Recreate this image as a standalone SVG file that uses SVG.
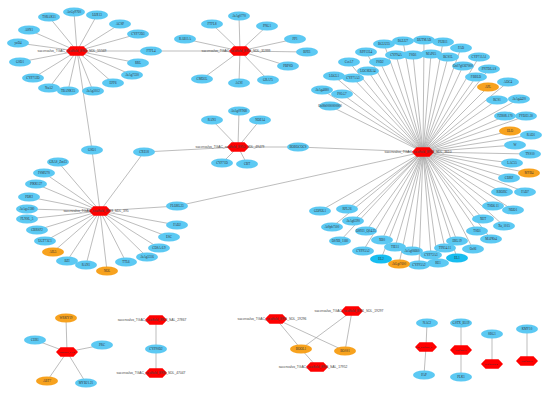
<svg xmlns="http://www.w3.org/2000/svg" xmlns:xlink="http://www.w3.org/1999/xlink" width="550" height="394" viewBox="0 0 550 394">
<style>
.e line{stroke:#a0a0a0;stroke-width:0.7}
.n use{fill:#5cc9f3}
.d use{fill:#17bdf0}
.o use{fill:#f7a21e}
text{font-family:"Liberation Serif","DejaVu Serif",serif;font-size:3.2px;fill:#333;text-anchor:middle}
.hl{font-family:"Liberation Sans","DejaVu Sans",sans-serif;font-size:3.3px;fill:#444}
.hs{font-size:2.7px}
</style>
<defs>
<polygon id="hex" points="-11,0 -6.5,-4.8 6.5,-4.8 11,0 6.5,4.8 -6.5,4.8" fill="#ff0000"/>
<ellipse id="el" rx="11" ry="4.6"/>
</defs>
<rect width="550" height="394" fill="#fff"/>
<g class="e" id="connectors">
<line x1="77" y1="51" x2="49" y2="17"/><line x1="77" y1="51" x2="74" y2="12"/><line x1="77" y1="51" x2="97" y2="15"/><line x1="77" y1="51" x2="120" y2="24"/><line x1="77" y1="51" x2="138" y2="34"/><line x1="77" y1="51" x2="29" y2="30"/><line x1="77" y1="51" x2="18" y2="43"/><line x1="77" y1="51" x2="20" y2="62"/><line x1="77" y1="51" x2="33" y2="78"/><line x1="77" y1="51" x2="49" y2="88"/><line x1="77" y1="51" x2="68" y2="91"/><line x1="77" y1="51" x2="93" y2="91"/><line x1="77" y1="51" x2="113" y2="83"/><line x1="77" y1="51" x2="132" y2="75"/><line x1="77" y1="51" x2="138" y2="63"/><line x1="77" y1="51" x2="151" y2="51"/><line x1="77" y1="51" x2="92" y2="150"/>
<line x1="240" y1="51" x2="151" y2="51"/><line x1="240" y1="51" x2="239" y2="16"/><line x1="240" y1="51" x2="212" y2="24"/><line x1="240" y1="51" x2="267" y2="26"/><line x1="240" y1="51" x2="185" y2="39"/><line x1="240" y1="51" x2="295" y2="39"/><line x1="240" y1="51" x2="307" y2="52"/><line x1="240" y1="51" x2="288" y2="66"/><line x1="240" y1="51" x2="268" y2="80"/><line x1="240" y1="51" x2="239" y2="83"/><line x1="240" y1="51" x2="202" y2="79"/>
<line x1="423" y1="152" x2="384" y2="44"/><line x1="423" y1="152" x2="403" y2="41"/><line x1="423" y1="152" x2="424" y2="40"/><line x1="423" y1="152" x2="443" y2="42"/><line x1="423" y1="152" x2="461" y2="48"/><line x1="423" y1="152" x2="366" y2="52"/><line x1="423" y1="152" x2="396" y2="55"/><line x1="423" y1="152" x2="413" y2="55"/><line x1="423" y1="152" x2="431" y2="54"/><line x1="423" y1="152" x2="448" y2="57"/><line x1="423" y1="152" x2="479" y2="57"/><line x1="423" y1="152" x2="349" y2="62"/><line x1="423" y1="152" x2="380" y2="62"/><line x1="423" y1="152" x2="463" y2="66"/><line x1="423" y1="152" x2="368" y2="71"/><line x1="423" y1="152" x2="489" y2="69"/><line x1="423" y1="152" x2="334" y2="76"/><line x1="423" y1="152" x2="353" y2="78"/><line x1="423" y1="152" x2="476" y2="77"/><line x1="423" y1="152" x2="508" y2="82"/><line x1="423" y1="152" x2="488" y2="87"/><line x1="423" y1="152" x2="322" y2="90"/><line x1="423" y1="152" x2="342" y2="94"/><line x1="423" y1="152" x2="497" y2="100"/><line x1="423" y1="152" x2="519" y2="99"/><line x1="423" y1="152" x2="330" y2="106"/><line x1="423" y1="152" x2="505" y2="116"/><line x1="423" y1="152" x2="526" y2="116"/><line x1="423" y1="152" x2="510" y2="131"/><line x1="423" y1="152" x2="531" y2="135"/><line x1="423" y1="152" x2="515" y2="145"/><line x1="423" y1="152" x2="530" y2="154"/><line x1="423" y1="152" x2="512" y2="163"/><line x1="423" y1="152" x2="529" y2="173"/><line x1="423" y1="152" x2="509" y2="178"/><line x1="423" y1="152" x2="502" y2="192"/><line x1="423" y1="152" x2="525" y2="192"/><line x1="423" y1="152" x2="493" y2="206"/><line x1="423" y1="152" x2="513" y2="210"/><line x1="423" y1="152" x2="483" y2="219"/><line x1="423" y1="152" x2="504" y2="226"/><line x1="423" y1="152" x2="477" y2="231"/><line x1="423" y1="152" x2="491" y2="239"/><line x1="423" y1="152" x2="457" y2="241"/><line x1="423" y1="152" x2="473" y2="249"/><line x1="423" y1="152" x2="445" y2="248"/><line x1="423" y1="152" x2="457" y2="258"/><line x1="423" y1="152" x2="438" y2="263"/><line x1="423" y1="152" x2="431" y2="255"/><line x1="423" y1="152" x2="412" y2="251"/><line x1="423" y1="152" x2="419" y2="265"/><line x1="423" y1="152" x2="395" y2="247"/><line x1="423" y1="152" x2="399" y2="264"/><line x1="423" y1="152" x2="381" y2="259"/><line x1="423" y1="152" x2="382" y2="240"/><line x1="423" y1="152" x2="363" y2="251"/><line x1="423" y1="152" x2="340" y2="241"/><line x1="423" y1="152" x2="366" y2="231"/><line x1="423" y1="152" x2="353" y2="221"/><line x1="423" y1="152" x2="332" y2="227"/><line x1="423" y1="152" x2="347" y2="209"/><line x1="423" y1="152" x2="320" y2="211"/><line x1="423" y1="152" x2="298" y2="147"/><line x1="423" y1="152" x2="177" y2="206"/>
<line x1="238" y1="147" x2="212" y2="120"/><line x1="238" y1="147" x2="239" y2="111"/><line x1="238" y1="147" x2="260" y2="120"/><line x1="238" y1="147" x2="222" y2="163"/><line x1="238" y1="147" x2="247" y2="164"/><line x1="238" y1="147" x2="144" y2="152"/><line x1="238" y1="147" x2="298" y2="147"/>
<line x1="100" y1="211" x2="92" y2="150"/><line x1="100" y1="211" x2="144" y2="152"/><line x1="100" y1="211" x2="58" y2="162"/><line x1="100" y1="211" x2="44" y2="173"/><line x1="100" y1="211" x2="36" y2="184"/><line x1="100" y1="211" x2="29" y2="197"/><line x1="100" y1="211" x2="27" y2="209"/><line x1="100" y1="211" x2="27" y2="219"/><line x1="100" y1="211" x2="37" y2="230"/><line x1="100" y1="211" x2="45" y2="241"/><line x1="100" y1="211" x2="53" y2="252"/><line x1="100" y1="211" x2="67" y2="261"/><line x1="100" y1="211" x2="86" y2="265"/><line x1="100" y1="211" x2="107" y2="271"/><line x1="100" y1="211" x2="126" y2="262"/><line x1="100" y1="211" x2="147" y2="257"/><line x1="100" y1="211" x2="159" y2="248"/><line x1="100" y1="211" x2="169" y2="237"/><line x1="100" y1="211" x2="177" y2="225"/><line x1="100" y1="211" x2="177" y2="206"/>
<line x1="67" y1="352" x2="66" y2="318"/><line x1="67" y1="352" x2="35" y2="340"/><line x1="67" y1="352" x2="102" y2="345"/><line x1="67" y1="352" x2="47" y2="381"/><line x1="67" y1="352" x2="86" y2="383"/>
<line x1="156" y1="320" x2="156" y2="349"/><line x1="156" y1="373" x2="156" y2="349"/>
<line x1="276" y1="319" x2="301" y2="349"/><line x1="276" y1="319" x2="345" y2="351"/><line x1="352" y1="311" x2="301" y2="349"/><line x1="352" y1="311" x2="345" y2="351"/><line x1="301" y1="349" x2="317" y2="367"/>
<line x1="427" y1="323" x2="426" y2="347"/><line x1="426" y1="347" x2="424" y2="375"/>
<line x1="461" y1="323" x2="461" y2="350"/><line x1="461" y1="350" x2="461" y2="377"/>
<line x1="492" y1="334" x2="492" y2="364"/><line x1="527" y1="329" x2="527" y2="361"/>
</g>
<g id="TSRAK11" class="n"><use href="#el" x="49" y="17"/><text x="49" y="18.1">TSRAK11</text></g>
<g id="AcGy9760" class="n"><use href="#el" x="74" y="12"/><text x="74" y="13.1">AcGy9760</text></g>
<g id="LOX13" class="n"><use href="#el" x="97" y="15"/><text x="97" y="16.1">LOX13</text></g>
<g id="ACSP" class="n"><use href="#el" x="120" y="24"/><text x="120" y="25.1">ACSP</text></g>
<g id="CYP72D3" class="n"><use href="#el" x="138" y="34"/><text x="138" y="35.1">CYP72D3</text></g>
<g id="ASN1" class="n"><use href="#el" x="29" y="30"/><text x="29" y="31.1">ASN1</text></g>
<g id="yuD4" class="n"><use href="#el" x="18" y="43"/><text x="18" y="44.1">yuD4</text></g>
<g id="GSD1" class="n"><use href="#el" x="20" y="62"/><text x="20" y="63.1">GSD1</text></g>
<g id="CYP712D" class="n"><use href="#el" x="33" y="78"/><text x="33" y="79.1">CYP712D</text></g>
<g id="NuA2" class="n"><use href="#el" x="49" y="88"/><text x="49" y="89.1">NuA2</text></g>
<g id="TBANK15" class="n"><use href="#el" x="68" y="91"/><text x="68" y="92.1">TBANK15</text></g>
<g id="AtAg3012" class="n"><use href="#el" x="93" y="91"/><text x="93" y="92.1">AtAg3012</text></g>
<g id="EPF6" class="n"><use href="#el" x="113" y="83"/><text x="113" y="84.1">EPF6</text></g>
<g id="AtAg7330" class="n"><use href="#el" x="132" y="75"/><text x="132" y="76.1">AtAg7330</text></g>
<g id="RRL" class="n"><use href="#el" x="138" y="63"/><text x="138" y="64.1">RRL</text></g>
<g id="FTFL4" class="n"><use href="#el" x="151" y="51"/><text x="151" y="52.1">FTFL4</text></g>
<g id="GSO1" class="n"><use href="#el" x="92" y="150"/><text x="92" y="151.1">GSO1</text></g>
<g id="hub1"><use href="#hex" x="77" y="51"/><text class="hl" x="72" y="52.1">saccnvalvo_TGAC_scaffold_8966_SDL_55569</text></g>
<g id="AtAg0770" class="n"><use href="#el" x="239" y="16"/><text x="239" y="17.1">AtAg0770</text></g>
<g id="FTFL8" class="n"><use href="#el" x="212" y="24"/><text x="212" y="25.1">FTFL8</text></g>
<g id="PNG1" class="n"><use href="#el" x="267" y="26"/><text x="267" y="27.1">PNG1</text></g>
<g id="RAB11A" class="n"><use href="#el" x="185" y="39"/><text x="185" y="40.1">RAB11A</text></g>
<g id="PP1" class="n"><use href="#el" x="295" y="39"/><text x="295" y="40.1">PP1</text></g>
<g id="BPE1" class="n"><use href="#el" x="307" y="52"/><text x="307" y="53.1">BPE1</text></g>
<g id="PBPSD" class="n"><use href="#el" x="288" y="66"/><text x="288" y="67.1">PBPSD</text></g>
<g id="GRA75" class="n"><use href="#el" x="268" y="80"/><text x="268" y="81.1">GRA75</text></g>
<g id="ACSI" class="n"><use href="#el" x="239" y="83"/><text x="239" y="84.1">ACSI</text></g>
<g id="CMD5L" class="n"><use href="#el" x="202" y="79"/><text x="202" y="80.1">CMD5L</text></g>
<g id="hub2"><use href="#hex" x="240" y="51"/><text class="hl" x="236" y="52.1">saccnvalvo_TGAC_scaffold_8958_SDL_31999</text></g>
<g id="BGLU35" class="n"><use href="#el" x="384" y="44"/><text x="384" y="45.1">BGLU35</text></g>
<g id="BGLU7" class="n"><use href="#el" x="403" y="41"/><text x="403" y="42.1">BGLU7</text></g>
<g id="DUTMAD" class="n"><use href="#el" x="424" y="40"/><text x="424" y="41.1">DUTMAD</text></g>
<g id="PUB11" class="n"><use href="#el" x="443" y="42"/><text x="443" y="43.1">PUB11</text></g>
<g id="FAD" class="n"><use href="#el" x="461" y="48"/><text x="461" y="49.1">FAD</text></g>
<g id="RPP13L4" class="n"><use href="#el" x="366" y="52"/><text x="366" y="53.1">RPP13L4</text></g>
<g id="CYP94A" class="n"><use href="#el" x="396" y="55"/><text x="396" y="56.1">CYP94A</text></g>
<g id="FSD1" class="n"><use href="#el" x="413" y="55"/><text x="413" y="56.1">FSD1</text></g>
<g id="MAP65" class="n"><use href="#el" x="431" y="54"/><text x="431" y="55.1">MAP65</text></g>
<g id="BCS1L" class="n"><use href="#el" x="448" y="57"/><text x="448" y="58.1">BCS1L</text></g>
<g id="CYP711A1" class="n"><use href="#el" x="479" y="57"/><text x="479" y="58.1">CYP711A1</text></g>
<g id="CerA7" class="n"><use href="#el" x="349" y="62"/><text x="349" y="63.1">CerA7</text></g>
<g id="PSD2" class="n"><use href="#el" x="380" y="62"/><text x="380" y="63.1">PSD2</text></g>
<g id="Os07g" class="n"><use href="#el" x="463" y="66"/><text x="463" y="67.1">Os07g0367000</text></g>
<g id="LOC8" class="n"><use href="#el" x="368" y="71"/><text x="368" y="72.1">LOC8OL54</text></g>
<g id="PNPLA" class="n"><use href="#el" x="489" y="69"/><text x="489" y="70.1">PNTDLAS</text></g>
<g id="LOGL1" class="n"><use href="#el" x="334" y="76"/><text x="334" y="77.1">LOGL1</text></g>
<g id="CYP71A3" class="n"><use href="#el" x="353" y="78"/><text x="353" y="79.1">CYP71A3</text></g>
<g id="FBBLD" class="n"><use href="#el" x="476" y="77"/><text x="476" y="78.1">FBBLD</text></g>
<g id="ADC4" class="n"><use href="#el" x="508" y="82"/><text x="508" y="83.1">ADC4</text></g>
<g id="APL" class="o"><use href="#el" x="488" y="87"/><text x="488" y="88.1">APL</text></g>
<g id="AtAg4680" class="n"><use href="#el" x="322" y="90"/><text x="322" y="91.1">AtAg4680</text></g>
<g id="PSLG7" class="n"><use href="#el" x="342" y="94"/><text x="342" y="95.1">PSLG7</text></g>
<g id="RCS1" class="n"><use href="#el" x="497" y="100"/><text x="497" y="101.1">RCS1</text></g>
<g id="AtAg4420" class="n"><use href="#el" x="519" y="99"/><text x="519" y="100.1">AtAg4420</text></g>
<g id="Os08t" class="n"><use href="#el" x="330" y="106"/><text x="330" y="107.1">Os08t0000000000</text></g>
<g id="FZR0R" class="n"><use href="#el" x="505" y="116"/><text x="505" y="117.1">FZR0R.170</text></g>
<g id="FYDE" class="n"><use href="#el" x="526" y="116"/><text x="526" y="117.1">FYDE1.30</text></g>
<g id="ELO" class="o"><use href="#el" x="510" y="131"/><text x="510" y="132.1">ELO</text></g>
<g id="RAD1" class="n"><use href="#el" x="531" y="135"/><text x="531" y="136.1">RAD1</text></g>
<g id="W" class="n"><use href="#el" x="515" y="145"/><text x="515" y="146.1">W</text></g>
<g id="TNS10" class="n"><use href="#el" x="530" y="154"/><text x="530" y="155.1">TNS10</text></g>
<g id="LAC55" class="n"><use href="#el" x="512" y="163"/><text x="512" y="164.1">LAC55</text></g>
<g id="MYB4" class="o"><use href="#el" x="529" y="173"/><text x="529" y="174.1">MYB4</text></g>
<g id="CDRP" class="n"><use href="#el" x="509" y="178"/><text x="509" y="179.1">CDRP</text></g>
<g id="RBOHC" class="n"><use href="#el" x="502" y="192"/><text x="502" y="193.1">RBOHC</text></g>
<g id="FAD7" class="n"><use href="#el" x="525" y="192"/><text x="525" y="193.1">FAD7</text></g>
<g id="TSD611" class="n"><use href="#el" x="493" y="206"/><text x="493" y="207.1">TSD6.11</text></g>
<g id="NDD1" class="n"><use href="#el" x="513" y="210"/><text x="513" y="211.1">NDD1</text></g>
<g id="XET" class="n"><use href="#el" x="483" y="219"/><text x="483" y="220.1">XET</text></g>
<g id="Xa1015" class="n"><use href="#el" x="504" y="226"/><text x="504" y="227.1">Xa_1015</text></g>
<g id="TSD1" class="n"><use href="#el" x="477" y="231"/><text x="477" y="232.1">TSD1</text></g>
<g id="MAPKt4" class="n"><use href="#el" x="491" y="239"/><text x="491" y="240.1">MAPKt4</text></g>
<g id="ERL19" class="n"><use href="#el" x="457" y="241"/><text x="457" y="242.1">ERL19</text></g>
<g id="Os06" class="n"><use href="#el" x="473" y="249"/><text x="473" y="250.1">Os06</text></g>
<g id="TIN3411" class="n"><use href="#el" x="445" y="248"/><text x="445" y="249.1">TIN34.11</text></g>
<g id="EL1" class="d"><use href="#el" x="457" y="258"/><text x="457" y="259.1">EL1</text></g>
<g id="RE1" class="n"><use href="#el" x="438" y="263"/><text x="438" y="264.1">RE1</text></g>
<g id="CYP72A3" class="n"><use href="#el" x="431" y="255"/><text x="431" y="256.1">CYP72A3</text></g>
<g id="AtAg06660" class="n"><use href="#el" x="412" y="251"/><text x="412" y="252.1">AtAg06660</text></g>
<g id="CYP93A2" class="n"><use href="#el" x="419" y="265"/><text x="419" y="266.1">CYP93A2</text></g>
<g id="TIE11" class="n"><use href="#el" x="395" y="247"/><text x="395" y="248.1">TIE11</text></g>
<g id="AtLgt" class="o"><use href="#el" x="399" y="264"/><text x="399" y="265.1">AtLgt7600</text></g>
<g id="EL2" class="d"><use href="#el" x="381" y="259"/><text x="381" y="260.1">EL2</text></g>
<g id="XB0" class="n"><use href="#el" x="382" y="240"/><text x="382" y="241.1">XB0</text></g>
<g id="CYP93A2b" class="n"><use href="#el" x="363" y="251"/><text x="363" y="252.1">CYP93A2</text></g>
<g id="DSXB1160" class="n"><use href="#el" x="340" y="241"/><text x="340" y="242.1">DSXB_1160</text></g>
<g id="OS921" class="n"><use href="#el" x="366" y="231"/><text x="366" y="232.1">OS921_Q04.25</text></g>
<g id="AtAg6590" class="n"><use href="#el" x="353" y="221"/><text x="353" y="222.1">AtAg6590</text></g>
<g id="AtSph7500" class="n"><use href="#el" x="332" y="227"/><text x="332" y="228.1">AtSph7500</text></g>
<g id="RPL26" class="n"><use href="#el" x="347" y="209"/><text x="347" y="210.1">RPL26</text></g>
<g id="GDPOL1" class="n"><use href="#el" x="320" y="211"/><text x="320" y="212.1">GDPOL1</text></g>
<g id="BOBOCOCS" class="n"><use href="#el" x="298" y="147"/><text x="298" y="148.1">BOBOCOCS</text></g>
<g id="FLORL23" class="n"><use href="#el" x="177" y="206"/><text x="177" y="207.1">FLORL23</text></g>
<g id="hub3"><use href="#hex" x="423" y="152"/><text class="hl" x="418" y="153.1">saccnvalvo_TGAC_scaffold_8964_SDL_3610</text></g>
<g id="RAN1" class="n"><use href="#el" x="212" y="120"/><text x="212" y="121.1">RAN1</text></g>
<g id="AtAg0Y968" class="n"><use href="#el" x="239" y="111"/><text x="239" y="112.1">AtAg0Y968</text></g>
<g id="NDE14" class="n"><use href="#el" x="260" y="120"/><text x="260" y="121.1">NDE14</text></g>
<g id="CYP71D" class="n"><use href="#el" x="222" y="163"/><text x="222" y="164.1">CYP71D</text></g>
<g id="CBT" class="n"><use href="#el" x="247" y="164"/><text x="247" y="165.1">CBT</text></g>
<g id="CXE18" class="n"><use href="#el" x="144" y="152"/><text x="144" y="153.1">CXE18</text></g>
<g id="hub5"><use href="#hex" x="238" y="147"/><text class="hl" x="230" y="148.1">saccnvalvo_TGAC_scaffold_8950_SDL_49479</text></g>
<g id="GRASZm13" class="n"><use href="#el" x="58" y="162"/><text x="58" y="163.1">GRAS_Zm13</text></g>
<g id="FSMU70" class="n"><use href="#el" x="44" y="173"/><text x="44" y="174.1">FSMU70</text></g>
<g id="PIKK127" class="n"><use href="#el" x="36" y="184"/><text x="36" y="185.1">PIKK127</text></g>
<g id="PDKI" class="n"><use href="#el" x="29" y="197"/><text x="29" y="198.1">PDKI</text></g>
<g id="AtAge2380" class="n"><use href="#el" x="27" y="209"/><text x="27" y="210.1">AtAge2380</text></g>
<g id="FLNSL5" class="n"><use href="#el" x="27" y="219"/><text x="27" y="220.1">FLNSL_5</text></g>
<g id="CBRSP2" class="n"><use href="#el" x="37" y="230"/><text x="37" y="231.1">CBRSP2</text></g>
<g id="UGT73C1" class="n"><use href="#el" x="45" y="241"/><text x="45" y="242.1">UGT73C1</text></g>
<g id="AIL5" class="o"><use href="#el" x="53" y="252"/><text x="53" y="253.1">AIL5</text></g>
<g id="BZI" class="n"><use href="#el" x="67" y="261"/><text x="67" y="262.1">BZI</text></g>
<g id="RAN1b" class="n"><use href="#el" x="86" y="265"/><text x="86" y="266.1">RAN1</text></g>
<g id="NOL" class="o"><use href="#el" x="107" y="271"/><text x="107" y="272.1">NOL</text></g>
<g id="TTL6" class="n"><use href="#el" x="126" y="262"/><text x="126" y="263.1">TTL6</text></g>
<g id="AtAg3316" class="n"><use href="#el" x="147" y="257"/><text x="147" y="258.1">AtAg3316</text></g>
<g id="CDSA" class="n"><use href="#el" x="159" y="248"/><text x="159" y="249.1">CDSA.6.9</text></g>
<g id="ESC" class="n"><use href="#el" x="169" y="237"/><text x="169" y="238.1">ESC</text></g>
<g id="FAD2" class="n"><use href="#el" x="177" y="225"/><text x="177" y="226.1">FAD2</text></g>
<g id="hub4"><use href="#hex" x="100" y="211"/><text class="hl" x="96" y="212.1">saccnvalvo_TGAC_scaffold_8978_SDL_395</text></g>
<g id="WRKY19" class="o"><use href="#el" x="66" y="318"/><text x="66" y="319.1">WRKY19</text></g>
<g id="CER1" class="n"><use href="#el" x="35" y="340"/><text x="35" y="341.1">CER1</text></g>
<g id="PRC" class="n"><use href="#el" x="102" y="345"/><text x="102" y="346.1">PRC</text></g>
<g id="ABT7" class="o"><use href="#el" x="47" y="381"/><text x="47" y="382.1">ABT7</text></g>
<g id="MYB21" class="n"><use href="#el" x="86" y="383"/><text x="86" y="384.1">MYB21.21</text></g>
<g id="hub6"><use href="#hex" x="67" y="352"/><text class="hs" x="67" y="353">IdMt6D_1/74</text></g>
<g id="hub7"><use href="#hex" x="156" y="320"/><text class="hl" x="152" y="321.1">saccnvalvo_TGAC_scaffold_8923_SAL_27867</text></g>
<g id="CYP90D2" class="n"><use href="#el" x="156" y="349"/><text x="156" y="350.1">CYP90D2</text></g>
<g id="hub8"><use href="#hex" x="156" y="373"/><text class="hl" x="151" y="374.1">saccnvalvo_TGAC_scaffold_8930_SDL_47047</text></g>
<g id="BOOL1" class="o"><use href="#el" x="301" y="349"/><text x="301" y="350.1">BOOL1</text></g>
<g id="BOSS" class="o"><use href="#el" x="345" y="351"/><text x="345" y="352.1">BOSS1</text></g>
<g id="hubA"><use href="#hex" x="276" y="319"/><text class="hl" x="272" y="320.1">saccnvalvo_TGAC_scaffold_8931_SDL_19296</text></g>
<g id="hubB"><use href="#hex" x="352" y="311"/><text class="hl" x="349" y="312.1">saccnvalvo_TGAC_scaffold_8931_SDL_19297</text></g>
<g id="hubC"><use href="#hex" x="317" y="367"/><text class="hl" x="313" y="368.1">saccnvalvo_TGAC_scaffold_8946_SAL_17952</text></g>
<g id="NAC2" class="n"><use href="#el" x="427" y="323"/><text x="427" y="324.1">NAC2</text></g>
<g id="hubP1"><use href="#hex" x="426" y="347"/><text class="hs" x="424" y="348">sm_scaffold_8</text></g>
<g id="PAP" class="n"><use href="#el" x="424" y="375"/><text x="424" y="376.1">PAP</text></g>
<g id="GSTXB519" class="n"><use href="#el" x="461" y="323"/><text x="461" y="324.1">GSTX_B519</text></g>
<g id="hubP2"><use href="#hex" x="461" y="350"/><text class="hs" x="461" y="351">scaffold77</text></g>
<g id="PLK1" class="n"><use href="#el" x="461" y="377"/><text x="461" y="378.1">PLK1</text></g>
<g id="SBG1" class="n"><use href="#el" x="492" y="334"/><text x="492" y="335.1">SBG1</text></g>
<g id="hubP3"><use href="#hex" x="492" y="364"/><text class="hs" x="491" y="365">scaffold784</text></g>
<g id="KMY10" class="n"><use href="#el" x="527" y="329"/><text x="527" y="330.1">KMY10</text></g>
<g id="hubP4"><use href="#hex" x="527" y="361"/><text class="hs" x="527" y="362">scaffold77</text></g>
</svg>
